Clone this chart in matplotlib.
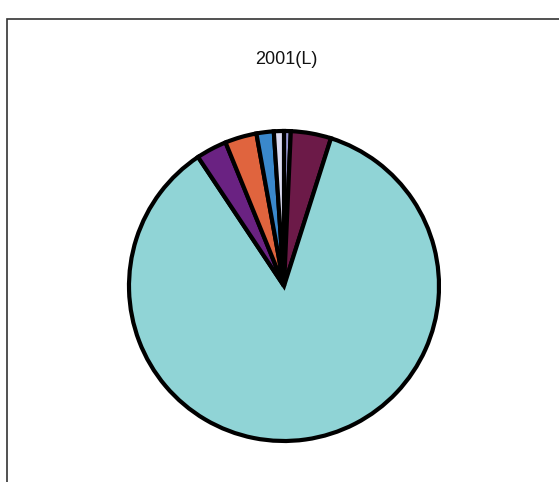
import matplotlib
matplotlib.use('Agg')
import matplotlib.pyplot as plt
import matplotlib.patches as patches

# shares for 2001(L), clockwise from 12 o'clock
labels = ['G', 'F', 'A', 'B', 'C', 'D', 'E']
shares = [0.7, 4.2, 85.7, 3.2, 3.3, 1.8, 1.05]
colors = ['#9a9ad6', '#6c1a48', '#90d4d6', '#6a2282', '#e0643e', '#3a88cc', '#dcdcf2']

W, H = 559, 482
fig = plt.figure(figsize=(W/100, H/100), dpi=100)
fig.patch.set_facecolor('white')

# chart frame (runs off the right and bottom edges)
fig.add_artist(patches.Rectangle((7/W, -0.05), 1.2, 1.05 - 19/H,
                                 transform=fig.transFigure, fill=False,
                                 edgecolor='#333333', linewidth=1.2))

fig.text(286/W, 1 - 60/H, '2001(L)', ha='center', va='center',
         fontsize=13, family='Liberation Sans', color='#111111')

cx, cy, r = 284, 286, 155
ax = fig.add_axes([(cx - r)/W, (H - cy - r)/H, 2*r/W, 2*r/H])
ax.pie(shares, colors=colors, startangle=90, counterclock=False,
       wedgeprops={'edgecolor': 'black', 'linewidth': 3.0, 'joinstyle': 'miter'})
ax.set_xlim(-1, 1)
ax.set_ylim(-1, 1)
ax.set_aspect('auto')
ax.axis('off')

fig.savefig('out.png', dpi=100)
